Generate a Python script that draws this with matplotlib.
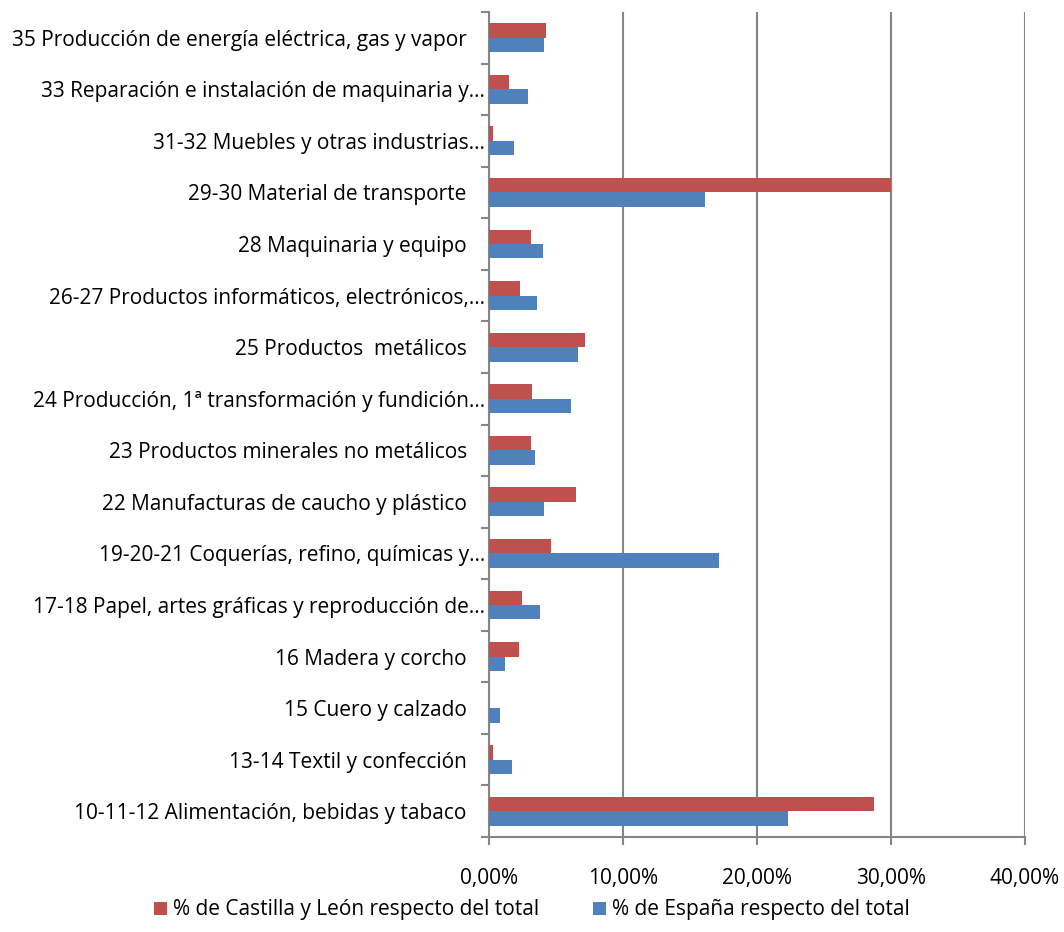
import matplotlib
matplotlib.use('Agg')
import matplotlib.pyplot as plt
import numpy as np
from matplotlib.ticker import FuncFormatter, FixedLocator

# categories from bottom to top
sectores = [
    "10-11-12 Alimentación, bebidas y tabaco",
    "13-14 Textil y confección",
    "15 Cuero y calzado",
    "16 Madera y corcho",
    "17-18 Papel, artes gráficas y reproducción de...",
    "19-20-21 Coquerías, refino, químicas y...",
    "22 Manufacturas de caucho y plástico",
    "23 Productos minerales no metálicos",
    "24 Producción, 1ª transformación y fundición...",
    "25 Productos  metálicos",
    "26-27 Productos informáticos, electrónicos,...",
    "28 Maquinaria y equipo",
    "29-30 Material de transporte",
    "31-32 Muebles y otras industrias...",
    "33 Reparación e instalación de maquinaria y...",
    "35 Producción de energía eléctrica, gas y vapor",
]
# % de Castilla y León respecto del total
cyl = [28.75, 0.30, 0.0, 2.22, 2.47, 4.61, 6.51, 3.14, 3.22, 7.16, 2.32, 3.17, 30.0, 0.30, 1.47, 4.29]
# % de España respecto del total
esp = [22.3, 1.72, 0.80, 1.17, 3.81, 17.2, 4.11, 3.40, 6.09, 6.66, 3.59, 4.04, 16.13, 1.87, 2.92, 4.11]

plt.rcParams['font.family'] = ['Open Sans', 'DejaVu Sans']

fig = plt.figure(figsize=(10.64, 9.32), dpi=100)
ax = fig.add_axes([489/1064, 1 - 837/932, 536/1064, 825/932])

y = np.arange(len(sectores))
h = 0.28
gris = "#868686"
ax.barh(y + h/2, cyl, height=h, color="#C0504D", label="% de Castilla y León respecto del total", zorder=3)
ax.barh(y - h/2, esp, height=h, color="#4F81BD", label="% de España respecto del total", zorder=3)

ax.set_xlim(0, 40)
ax.set_ylim(-0.5, len(sectores) - 0.5)
ax.set_xticks([0, 10, 20, 30, 40])
ax.xaxis.set_major_formatter(FuncFormatter(lambda v, p: f"{v:.2f}%".replace(".", ",")))
ax.grid(axis="x", color=gris, linewidth=1.5, zorder=0)

ax.yaxis.set_major_locator(FixedLocator(np.arange(-0.5, len(sectores), 1)))
ax.yaxis.set_major_formatter(FuncFormatter(lambda v, p: ""))
ax.set_yticks(y, minor=True)
ax.set_yticklabels(sectores, minor=True, fontsize=15)
ax.tick_params(axis="y", which="minor", length=0, pad=3)
ax.tick_params(axis="y", which="major", length=6, width=1.5, color=gris)
ax.tick_params(axis="x", length=6, width=1.5, color=gris, labelsize=15, pad=16)

# labels that are not cut off sit a bit further from the axis
for lab in ax.get_yticklabels(minor=True):
    if not lab.get_text().endswith("..."):
        lab.set_x(-18/536)

for s in ["top", "right"]:
    ax.spines[s].set_visible(False)
for s in ["left", "bottom"]:
    ax.spines[s].set_color(gris)
    ax.spines[s].set_linewidth(1.5)

fig.legend(loc="center", bbox_to_anchor=(0.5, 1 - 910/932), ncol=2, frameon=False,
           fontsize=15, handlelength=0.6, handleheight=0.6, handletextpad=0.3, columnspacing=2.6)

fig.savefig("out.png", dpi=100)
